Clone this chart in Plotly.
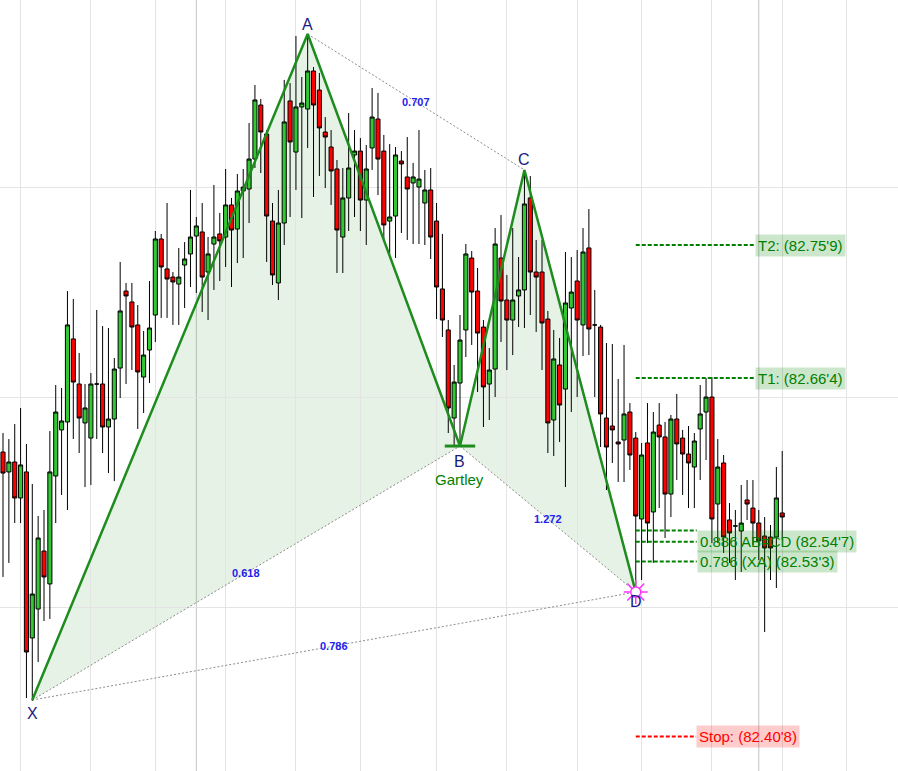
import plotly.graph_objects as go

# ---------------- data ----------------
candle_idx = list(range(135))
opens = [82.5769, 82.6111, 82.5969, 82.604, 82.5783, 82.5969, 82.4783, 82.499, 82.5404, 82.5169,
         82.594, 82.6269, 82.6326, 82.6919, 82.6597, 82.6319, 82.6211, 82.6597, 82.6597, 82.629,
         82.6347, 82.6711, 82.7261, 82.7183, 82.7019, 82.6647, 82.684, 82.709, 82.7633, 82.7419,
         82.7361, 82.7311, 82.7447, 82.7526, 82.7654, 82.7683, 82.7397, 82.7597, 82.7669, 82.7647,
         82.7876, 82.7704, 82.7976, 82.799, 82.8204, 82.859, 82.8383, 82.7761, 82.7319, 82.7747,
         82.8619, 82.8254, 82.8576, 82.8561, 82.8833, 82.8697, 82.8397, 82.829, 82.8133, 82.7647,
         82.7926, 82.8233, 82.8261, 82.7911, 82.8283, 82.849, 82.8261, 82.7761, 82.7797, 82.819,
         82.8076, 82.8033, 82.8004, 82.789, 82.7983, 82.7761, 82.7276, 82.6983, 82.6354, 82.6604,
         82.6983, 82.7497, 82.7261, 82.7004, 82.6597, 82.6704, 82.7497, 82.7197, 82.7054, 82.7226,
         82.7269, 82.7926, 82.7397, 82.7397, 82.7061, 82.634, 82.6733, 82.6561, 82.714, 82.7333,
         82.7019, 82.7569, 82.7019, 82.7004, 82.6354, 82.6297, 82.6183, 82.6197, 82.6397, 82.6211,
         82.5633, 82.6176, 82.5683, 82.6304, 82.6219, 82.5811, 82.6347, 82.6211, 82.6097, 82.6004,
         82.6276, 82.6397, 82.6504, 82.574, 82.6033, 82.5626, 82.5583, 82.5547, 82.5769, 82.5711,
         82.5604, 82.5511, 82.5504, 82.5504, 82.5676]
highs = [82.6247, 82.6247, 82.6204, 82.6311, 82.6426, 82.6169, 82.5883, 82.5654, 82.5697, 82.6261,
         82.659, 82.6569, 82.7261, 82.7204, 82.6819, 82.6597, 82.6676, 82.7126, 82.7011, 82.6997,
         82.6783, 82.7469, 82.7319, 82.7319, 82.7161, 82.6976, 82.7333, 82.769, 82.7669, 82.789,
         82.7397, 82.7569, 82.7611, 82.7983, 82.779, 82.789, 82.7647, 82.8019, 82.7819, 82.8133,
         82.7926, 82.8097, 82.8133, 82.8461, 82.8733, 82.8633, 82.8411, 82.789, 82.7983, 82.8769,
         82.8747, 82.9083, 82.879, 82.9097, 82.8861, 82.8819, 82.8504, 82.8411, 82.8197, 82.814,
         82.8533, 82.8411, 82.8354, 82.8304, 82.8711, 82.8676, 82.8376, 82.8311, 82.829, 82.8261,
         82.8361, 82.8176, 82.8411, 82.8126, 82.814, 82.789, 82.7669, 82.7054, 82.6733, 82.709,
         82.7597, 82.7547, 82.7426, 82.7054, 82.6854, 82.7711, 82.7804, 82.7376, 82.7711, 82.7504,
         82.8126, 82.8083, 82.7626, 82.7626, 82.7119, 82.6983, 82.6926, 82.754, 82.7504, 82.7554,
         82.7711, 82.7847, 82.7269, 82.7019, 82.689, 82.6883, 82.6633, 82.6876, 82.6461, 82.6254,
         82.6176, 82.6461, 82.6397, 82.6461, 82.6326, 82.6376, 82.6526, 82.6269, 82.6297, 82.6247,
         82.659, 82.664, 82.6647, 82.6204, 82.609, 82.5747, 82.5697, 82.5876, 82.5911, 82.5911,
         82.5697, 82.5647, 82.559, 82.6004, 82.6119]
lows = [82.5376, 82.5219, 82.5319, 82.5604, 82.5604, 82.4354, 82.4333, 82.4611, 82.4904, 82.4919,
        82.5604, 82.5804, 82.5697, 82.6204, 82.6104, 82.5861, 82.5876, 82.6204, 82.6104, 82.5961,
        82.5904, 82.6497, 82.6597, 82.6697, 82.6276, 82.639, 82.6604, 82.6897, 82.7069, 82.7069,
        82.7019, 82.7019, 82.714, 82.729, 82.7247, 82.7111, 82.7054, 82.7269, 82.7333, 82.7433,
        82.729, 82.7461, 82.7497, 82.7747, 82.814, 82.8104, 82.7469, 82.7304, 82.7197, 82.759,
        82.779, 82.7983, 82.7783, 82.8283, 82.7933, 82.8083, 82.7997, 82.7876, 82.739, 82.739,
        82.769, 82.779, 82.769, 82.759, 82.8126, 82.7947, 82.7626, 82.7526, 82.7497, 82.7676,
        82.7626, 82.7597, 82.7597, 82.759, 82.749, 82.7061, 82.6933, 82.6247, 82.6147, 82.6147,
        82.679, 82.6876, 82.654, 82.629, 82.634, 82.6504, 82.6897, 82.6697, 82.6804, 82.7004,
        82.6997, 82.709, 82.6969, 82.6697, 82.6104, 82.6083, 82.6183, 82.5861, 82.6397, 82.6504,
        82.6797, 82.6804, 82.6504, 82.6147, 82.584, 82.6033, 82.5897, 82.5897, 82.5983, 82.5111,
        82.5197, 82.5461, 82.5319, 82.5711, 82.5497, 82.5647, 82.5911, 82.5804, 82.5711, 82.5711,
        82.5911, 82.6054, 82.5461, 82.5461, 82.539, 82.5319, 82.5197, 82.5254, 82.5626, 82.5447,
        82.534, 82.4826, 82.5197, 82.514, 82.5483]
closes = [82.609, 82.5961, 82.604, 82.5783, 82.6019, 82.4683, 82.5097, 82.5497, 82.5219, 82.5969,
          82.6397, 82.6333, 82.7019, 82.6611, 82.6354, 82.6426, 82.6597, 82.6597, 82.629, 82.6347,
          82.6704, 82.7119, 82.7226, 82.7004, 82.6683, 82.6804, 82.6997, 82.7633, 82.7433, 82.7347,
          82.7326, 82.7361, 82.749, 82.7647, 82.7726, 82.7361, 82.7526, 82.7647, 82.7619, 82.7876,
          82.7697, 82.7976, 82.8004, 82.8204, 82.8626, 82.8397, 82.7797, 82.7376, 82.7747, 82.8469,
          82.8326, 82.8576, 82.8604, 82.8833, 82.859, 82.8426, 82.8361, 82.8119, 82.7697, 82.7926,
          82.814, 82.8261, 82.7911, 82.8133, 82.8504, 82.8204, 82.7733, 82.779, 82.8233, 82.8169,
          82.799, 82.8076, 82.8061, 82.7983, 82.7647, 82.729, 82.7054, 82.6426, 82.6611, 82.6911,
          82.7526, 82.7254, 82.6961, 82.6576, 82.6697, 82.7597, 82.719, 82.7054, 82.7197, 82.7269,
          82.7883, 82.7397, 82.7361, 82.7033, 82.6319, 82.6776, 82.6447, 82.7176, 82.7254, 82.7054,
          82.754, 82.699, 82.7019, 82.6383, 82.6147, 82.6269, 82.6169, 82.6383, 82.609, 82.5654,
          82.609, 82.5604, 82.6254, 82.6219, 82.5811, 82.6347, 82.6169, 82.6097, 82.6033, 82.619,
          82.6383, 82.6504, 82.5633, 82.6004, 82.5504, 82.5533, 82.5583, 82.5604, 82.574, 82.5604,
          82.5476, 82.5426, 82.5426, 82.5783, 82.5647]

pattern_names = ["X", "A", "B", "C", "D"]
pattern_idx = [6, 53, 79, 90, 109]
pattern_price = [82.434, 82.9097, 82.6154, 82.8126, 82.5111]
pattern_title = "Gartley"

ratio_pairs = [("X", "B"), ("A", "C"), ("B", "D"), ("X", "D")]
ratio_text = ["0.618", "0.707", "1.272", "0.786"]

level_price = [82.759, 82.664, 82.555, 82.547, 82.533, 82.408]
level_text = ["T2: (82.75'9)", "T1: (82.66'4)", "", "0.886 AB=CD (82.54'7)",
              "0.786 (XA) (82.53'3)", "Stop: (82.40'8)"]
level_kind = ["target", "target", "fib", "fib", "fib", "stop"]

hgrid_price = [82.50, 82.65, 82.80]
vgrid_idx = [4, 16, 27, 39, 51, 62, 75, 87, 99, 110, 122, 134, 145]
vgrid_major_idx = [34, 130]

# ---------------- styles ----------------
FONT = "Arial, Liberation Sans, sans-serif"
PAT_GREEN = "#1e8c1e"
LEVEL_GREEN = "#008000"
LETTER_COLOR = "#1a1a80"
RATIO_COLOR = "#2222ee"
level_end = {"target": 129.35, "fib": 119.4, "stop": 119.3}
level_style = {
    "target": dict(color=LEVEL_GREEN, bg="rgba(0,128,0,0.2)"),
    "fib": dict(color=LEVEL_GREEN, bg="rgba(0,128,0,0.2)"),
    "stop": dict(color="#ff0000", bg="rgba(255,0,0,0.2)"),
}

P = dict(zip(pattern_names, zip(pattern_idx, pattern_price)))

fig = go.Figure()

# candles
fig.add_trace(go.Candlestick(
    x=candle_idx, open=opens, high=highs, low=lows, close=closes,
    increasing=dict(fillcolor="#32c832", line=dict(color="black", width=1)),
    decreasing=dict(fillcolor="#ff0000", line=dict(color="black", width=1)),
    whiskerwidth=0, showlegend=False, hoverinfo="skip",
))

# dashed gray ratio lines
for (a, b), txt in zip(ratio_pairs, ratio_text):
    xa, ya = P[a]
    xb, yb = P[b]
    fig.add_trace(go.Scatter(x=[xa, xb], y=[ya, yb], mode="lines",
                             line=dict(color="#8c8c8c", width=1, dash="2px,2px"),
                             showlegend=False, hoverinfo="skip"))
    fig.add_annotation(x=(xa + xb) / 2, y=(ya + yb) / 2, text=txt, showarrow=False,
                       font=dict(family=FONT, size=11, color=RATIO_COLOR, weight="bold"))

# pattern legs
fig.add_trace(go.Scatter(x=pattern_idx, y=pattern_price, mode="lines",
                         line=dict(color=PAT_GREEN, width=2.5),
                         showlegend=False, hoverinfo="skip"))

# B bar
bx, by = P["B"]
fig.add_trace(go.Scatter(x=[bx - 2.6, bx + 2.6], y=[by, by], mode="lines",
                         line=dict(color=PAT_GREEN, width=3),
                         showlegend=False, hoverinfo="skip"))

# level lines and labels
dx, dy = P["D"]
for price, txt, kind in zip(level_price, level_text, level_kind):
    st = level_style[kind]
    x1 = level_end[kind]
    fig.add_trace(go.Scatter(x=[dx, x1], y=[price, price], mode="lines",
                             line=dict(color=st["color"], width=2, dash="4px,2px"),
                             showlegend=False, hoverinfo="skip"))
    if txt:
        fig.add_annotation(x=x1, y=price, text=txt, showarrow=False, xanchor="left",
                           yanchor="middle", bgcolor=st["bg"], borderpad=2,
                           font=dict(family=FONT, size=15, color=st["color"]))

# D marker
fig.add_trace(go.Scatter(x=[dx], y=[dy], mode="markers",
                         marker=dict(symbol="asterisk-open", size=20, color="#ff33ff",
                                     line=dict(color="#ff33ff", width=1.5)),
                         showlegend=False, hoverinfo="skip"))
fig.add_trace(go.Scatter(x=[dx], y=[dy], mode="markers",
                         marker=dict(symbol="circle", size=10, color="white",
                                     line=dict(color="#ff33ff", width=1.5)),
                         showlegend=False, hoverinfo="skip"))

# letters
letter_shift = {"X": -13, "A": 10, "B": -15, "C": 10, "D": -9}
for name in pattern_names:
    x, y = P[name]
    fig.add_annotation(x=x, y=y, text=name, showarrow=False, yshift=letter_shift[name],
                       font=dict(family=FONT, size=16, color=LETTER_COLOR))
fig.add_annotation(x=bx, y=by, text=pattern_title, showarrow=False, yshift=-33,
                   font=dict(family=FONT, size=15, color=LEVEL_GREEN))

# shapes: triangles and major vertical gridlines
shapes = []
for tri in (("X", "A", "B"), ("B", "C", "D")):
    pts = [P[t] for t in tri]
    path = "M {} {} L {} {} L {} {} Z".format(*[v for p in pts for v in p])
    shapes.append(dict(type="path", path=path, xref="x", yref="y",
                       fillcolor="rgba(0,128,0,0.1)", line=dict(width=0), layer="below"))
for v in vgrid_major_idx:
    shapes.append(dict(type="line", x0=v, x1=v, y0=0, y1=1, xref="x", yref="paper",
                       line=dict(color="#c4c4c4", width=1), layer="below"))

fig.update_layout(
    width=898, height=771,
    margin=dict(l=0, r=0, t=0, b=0),
    paper_bgcolor="white", plot_bgcolor="white",
    showlegend=False,
    boxgap=0.3, boxgroupgap=0.0,
    shapes=shapes,
    xaxis=dict(range=[0.488, 153.76], showticklabels=False, ticks="", zeroline=False,
               showline=False, tickvals=vgrid_idx, showgrid=True, gridcolor="#e4e4e4",
               gridwidth=1, rangeslider=dict(visible=False), fixedrange=True),
    yaxis=dict(range=[82.38329, 82.934], showticklabels=False, ticks="", zeroline=False,
               showline=False, tickvals=hgrid_price, showgrid=True, gridcolor="#e4e4e4",
               gridwidth=1, fixedrange=True),
)

fig.write_html("out.html", config={"displayModeBar": False},
               post_script="document.body.style.margin='0px';document.body.style.overflow='hidden';")
